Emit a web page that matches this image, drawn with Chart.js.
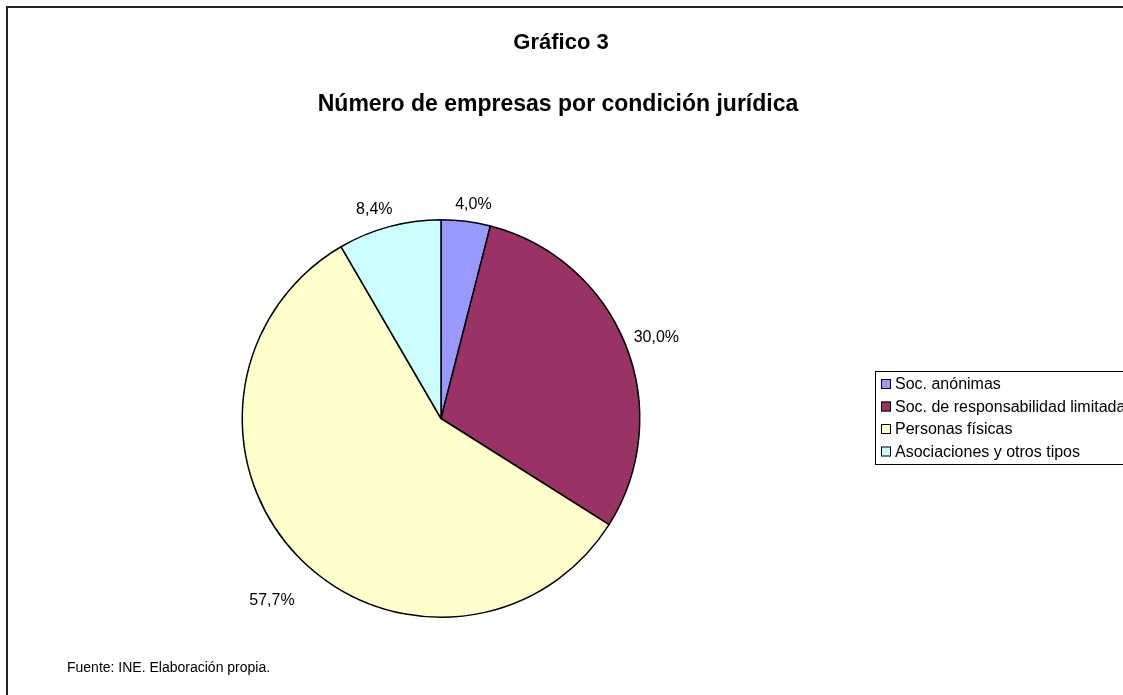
<!DOCTYPE html>
<html>
<head>
<meta charset="UTF-8">
<title>Gráfico 3</title>
<script src="https://cdn.jsdelivr.net/npm/chart.js@4.4.0/dist/chart.umd.min.js"></script>
<style>
  body { margin: 0; background: #fff; }
</style>
</head>
<body>
<canvas id="chart" width="1123" height="695"></canvas>

<script>
// datos (INE)
const categories = ['Soc. anónimas', 'Soc. de responsabilidad limitada', 'Personas físicas', 'Asociaciones y otros tipos']
const percentages = [4.0, 30.0, 57.7, 8.4]
const sliceColors = ['#9999FF', '#993366', '#FFFFCC', '#CCFFFF']
const pieLabels = ['4,0%', '30,0%', '57,7%', '8,4%']

const titleText = 'Gráfico 3'
const subtitleText = 'Número de empresas por condición jurídica'
const sourceText = 'Fuente: INE. Elaboración propia.'

const FONT = '"Liberation Sans", Arial, sans-serif'

// marco, titulos y fuente
const framePlugin = {
  id: 'frame',
  beforeDraw(chart) {
    const ctx = chart.ctx
    ctx.save()
    ctx.fillStyle = '#fff'
    ctx.fillRect(0, 0, chart.width, chart.height)
    ctx.strokeStyle = '#222'
    ctx.lineWidth = 2
    ctx.strokeRect(7, 7, 2000, 2000)
    ctx.fillStyle = '#000'
    ctx.textAlign = 'center'
    ctx.textBaseline = 'middle'
    ctx.font = 'bold 22px ' + FONT
    ctx.fillText(titleText, 561, 43)
    ctx.font = 'bold 23px ' + FONT
    ctx.fillText(subtitleText, 558, 105)
    ctx.textAlign = 'left'
    ctx.font = '14px ' + FONT
    ctx.fillText(sourceText, 67, 668)
    ctx.restore()
  }
}

// etiquetas de porcentaje fuera del sector (con pequeño ajuste tipo Excel)
const labelPlugin = {
  id: 'pieLabels',
  afterDatasetsDraw(chart, args, opts) {
    const ctx = chart.ctx
    const meta = chart.getDatasetMeta(0)
    ctx.save()
    ctx.font = '16px ' + FONT
    ctx.fillStyle = '#000'
    ctx.textAlign = 'center'
    ctx.textBaseline = 'middle'
    meta.data.forEach((arc, i) => {
      const p = arc.getProps(['x', 'y', 'startAngle', 'endAngle', 'outerRadius'], true)
      const mid = (p.startAngle + p.endAngle) / 2
      const ux = Math.cos(mid), uy = Math.sin(mid)
      const w = ctx.measureText(pieLabels[i]).width
      const proj = Math.abs(ux) * w / 2 + Math.abs(uy) * 8
      const d = p.outerRadius + 10 + proj
      const n = opts.nudge[i] || [0, 0]
      ctx.fillText(pieLabels[i], p.x + ux * d + n[0], p.y + uy * d + n[1])
    })
    ctx.restore()
  }
}

// leyenda con recuadro
const legendPlugin = {
  id: 'boxLegend',
  afterDraw(chart) {
    const ctx = chart.ctx
    const ds = chart.data.datasets[0]
    const x0 = 875, y0 = 371, rowH = 22.5
    ctx.save()
    ctx.fillStyle = '#fff'
    ctx.strokeStyle = '#000'
    ctx.lineWidth = 1
    ctx.fillRect(x0, y0, 400, rowH * chart.data.labels.length + 3)
    ctx.strokeRect(x0 + 0.5, y0 + 0.5, 400, rowH * chart.data.labels.length + 3)
    ctx.font = '16px ' + FONT
    ctx.textBaseline = 'middle'
    chart.data.labels.forEach((lab, i) => {
      const cy = y0 + 13 + i * rowH
      ctx.fillStyle = ds.backgroundColor[i]
      ctx.fillRect(x0 + 6, cy - 5, 10, 10)
      ctx.strokeRect(x0 + 6.5, cy - 4.5, 9, 9)
      ctx.fillStyle = '#000'
      ctx.fillText(lab, x0 + 20, cy + 1)
    })
    ctx.restore()
  }
}

const ctx = document.querySelector('#chart').getContext('2d')
const chart = new Chart(ctx, {
  type: 'pie',
  data: {
    labels: categories,
    datasets: [{
      data: percentages,
      backgroundColor: sliceColors,
      borderColor: '#000',
      borderWidth: 1.5
    }]
  },
  options: {
    responsive: false,
    devicePixelRatio: 1,
    animation: false,
    layout: { padding: { left: 241, right: 482, top: 219, bottom: 77 } },
    plugins: {
      legend: { display: false },
      title: { display: false },
      tooltip: { enabled: false },
      pieLabels: { nudge: [[5, 3], [-1, 5], [-3, 22], [-9, 5]] }
    }
  },
  plugins: [framePlugin, labelPlugin, legendPlugin]
})
</script>
</body>
</html>
